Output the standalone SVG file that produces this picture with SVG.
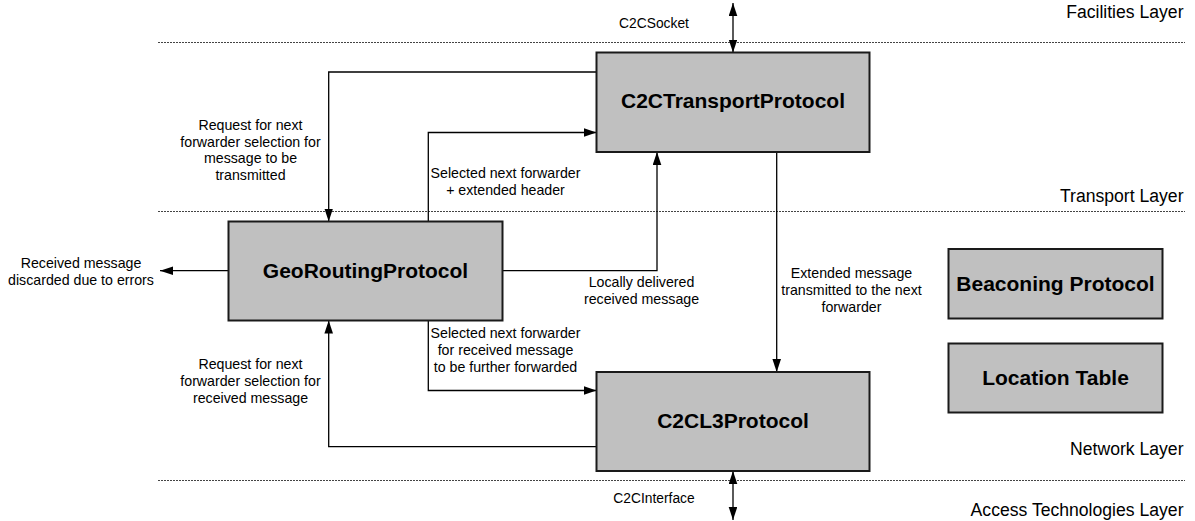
<svg xmlns="http://www.w3.org/2000/svg" width="1195" height="521" viewBox="0 0 1195 521">
<style>
  .layer-line { stroke:#444; stroke-width:1; stroke-dasharray:2,1; fill:none; }
  .layer-label { font-family:"Liberation Sans", Arial, sans-serif; font-size:17.6px; fill:#000; text-anchor:end; }
  .box { fill:#C0C0C0; stroke:#1a1a1a; stroke-width:2; }
  .title { font-family:"Liberation Sans", Arial, sans-serif; font-size:21px; font-weight:bold; fill:#000; text-anchor:middle; }
  .conn { fill:none; stroke:#000; stroke-width:1.3; marker-end:url(#arrow); }
  .dbl { marker-start:url(#arrow); }
  .lbl { font-family:"Liberation Sans", Arial, sans-serif; font-size:14.2px; fill:#000; text-anchor:middle; }
  .iface { font-family:"Liberation Sans", Arial, sans-serif; font-size:13.8px; fill:#000; text-anchor:middle; }
</style>
<defs>
  <marker id="arrow" markerUnits="userSpaceOnUse" markerWidth="13" markerHeight="9" refX="13" refY="4.3" orient="auto-start-reverse">
    <path d="M0,0 L13,4.3 L0,8.6 z" fill="#000"/>
  </marker>
</defs>
<rect width="1195" height="521" fill="#fff"/>

<g id="layers">
  <line class="layer-line" x1="158" y1="42.5" x2="1185" y2="42.5"/>
  <line class="layer-line" x1="158" y1="211.5" x2="1185" y2="211.5"/>
  <line class="layer-line" x1="158" y1="480.5" x2="1185" y2="480.5"/>
  <text class="layer-label" x="1183.5" y="17.5">Facilities Layer</text>
  <text class="layer-label" x="1183.5" y="201.5">Transport Layer</text>
  <text class="layer-label" x="1183.5" y="454.5">Network Layer</text>
  <text class="layer-label" x="1183.5" y="516">Access Technologies Layer</text>
</g>

<g id="connectors">
  <path class="conn" d="M596.5,72 H328.7 V221.5"/>
  <path class="conn" d="M428.3,221.5 V132.5 H596.5"/>
  <path class="conn" d="M502.5,270.7 H657 V152"/>
  <path class="conn" d="M776.7,152 V372"/>
  <path class="conn" d="M428.3,320.5 V390.5 H596.5"/>
  <path class="conn" d="M596.5,446.7 H328.7 V320.5"/>
  <path class="conn" d="M228.5,270.7 H160"/>
  <path class="conn dbl" d="M733,3 V52.5"/>
  <path class="conn dbl" d="M733,471 V520"/>

  <text class="iface" x="654" y="27.5">C2CSocket</text>
  <text class="iface" x="654" y="503">C2CInterface</text>

  <text class="lbl" x="250.5" y="130">Request for next</text>
  <text class="lbl" x="250.5" y="146.7">forwarder selection for</text>
  <text class="lbl" x="250.5" y="163.4">message to be</text>
  <text class="lbl" x="250.5" y="180">transmitted</text>

  <text class="lbl" x="505.5" y="178.3">Selected next forwarder</text>
  <text class="lbl" x="505.5" y="195">+ extended header</text>

  <text class="lbl" x="81" y="267.7">Received message</text>
  <text class="lbl" x="81" y="285">discarded due to errors</text>

  <text class="lbl" x="641.5" y="287.3">Locally delivered</text>
  <text class="lbl" x="641.5" y="304.3">received message</text>

  <text class="lbl" x="851.5" y="278.3">Extended message</text>
  <text class="lbl" x="851.5" y="295">transmitted to the next</text>
  <text class="lbl" x="851.5" y="311.7">forwarder</text>

  <text class="lbl" x="505.5" y="338.3">Selected next forwarder</text>
  <text class="lbl" x="505.5" y="355.3">for received message</text>
  <text class="lbl" x="505.5" y="372.3">to be further forwarded</text>

  <text class="lbl" x="250.5" y="368.7">Request for next</text>
  <text class="lbl" x="250.5" y="385.7">forwarder selection for</text>
  <text class="lbl" x="250.5" y="402.7">received message</text>
</g>

<g id="transport">
  <rect class="box" x="596.5" y="52.5" width="273" height="99.5"/>
  <text class="title" x="733" y="107.5">C2CTransportProtocol</text>
</g>
<g id="georouting">
  <rect class="box" x="228.5" y="221.5" width="274" height="99"/>
  <text class="title" x="365.5" y="277.5">GeoRoutingProtocol</text>
</g>
<g id="l3">
  <rect class="box" x="596.5" y="372" width="273" height="99"/>
  <text class="title" x="733" y="427.5">C2CL3Protocol</text>
</g>
<g id="beaconing">
  <rect class="box" x="948.5" y="249" width="214" height="69.5"/>
  <text class="title" x="1055.5" y="290.5">Beaconing Protocol</text>
</g>
<g id="location">
  <rect class="box" x="948.5" y="343.5" width="214" height="69"/>
  <text class="title" x="1055.5" y="384.5">Location Table</text>
</g>
</svg>
